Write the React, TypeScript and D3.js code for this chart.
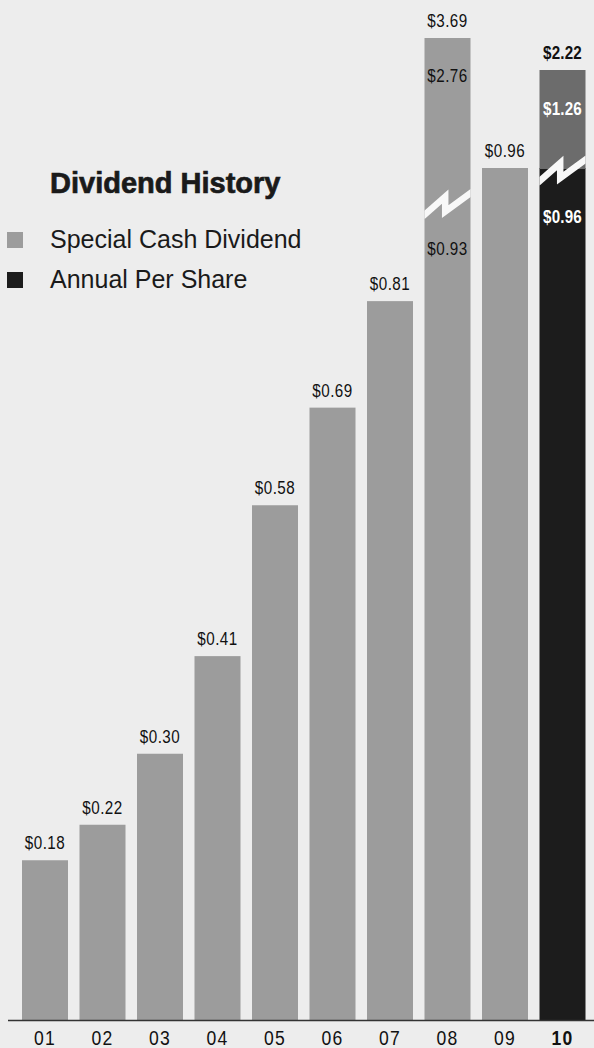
import React from "react";
import * as d3 from "d3";

const years = ["01", "02", "03", "04", "05", "06", "07", "08", "09", "10"];
const annual = [0.18, 0.22, 0.3, 0.41, 0.58, 0.69, 0.81, 0.93, 0.96, 0.96];
const special = [0, 0, 0, 0, 0, 0, 0, 2.76, 0, 1.26];
const legendItems = ["Special Cash Dividend", "Annual Per Share"];

const W = 594;
const H = 1048;
const BASE = 1020;

const GRAY = "#9c9c9c";
const DARK = "#6c6c6c";
const BLACK = "#1c1c1c";
const BG = "#ededed";
const SANS = "'Liberation Sans', Arial, Helvetica, sans-serif";

const fmt = (v: number) => "$" + v.toFixed(2);

function NText(props: {
  x: number;
  y: number;
  size?: number;
  bold?: boolean;
  fill?: string;
  spacing?: number;
  sx?: number;
  children: React.ReactNode;
}) {
  const { x, y, size = 19, bold = false, fill = "#111", spacing = 0.6, sx = 0.8, children } = props;
  return (
    <text
      transform={`translate(${x},${y}) scale(${sx},1)`}
      textAnchor="middle"
      fontFamily={SANS}
      fontSize={size}
      letterSpacing={spacing}
      fontWeight={bold ? "bold" : "normal"}
      fill={fill}
    >
      {children}
    </text>
  );
}

export default function App() {
  const x = d3.scaleBand<string>().domain(years).range([16.25, 591.25]).paddingInner(0.2).paddingOuter(0.1);
  // broken value axis: true scale up to the annual level, compressed above the break
  const y = d3.scaleLinear().domain([0, 0.96, 2.22, 3.69]).range([BASE, 168, 70, 38]);
  const bw = x.bandwidth();
  const last = years.length - 1;

  return (
    <svg width={W} height={H} style={{ position: "absolute", left: 0, top: 0, background: BG }}>
      <rect x={0} y={0} width={W} height={H} fill={BG} />
      <defs>
        {years.map((yr, i) => {
          const total = annual[i] + special[i];
          const x0 = x(yr)!;
          return (
            <clipPath id={`clip${i}`} key={yr}>
              <rect x={x0} y={y(total)} width={bw} height={BASE - y(total)} />
            </clipPath>
          );
        })}
      </defs>

      {years.map((yr, i) => {
        const total = annual[i] + special[i];
        const x0 = x(yr)!;
        const cx = x0 + bw / 2;
        const isLast = i === last;
        const hasSpecial = special[i] > 0;
        const yc = y(annual[i]) + (i === 7 ? 10 : 3);
        const xm = x0 + bw * 0.45;
        const zig = `M${x0 - 2},${yc + 12} L${xm},${yc - 8} L${xm},${yc + 7} L${x0 + bw + 2},${yc - 13}`;
        const txtFill = isLast ? "#fff" : "#111";
        return (
          <g key={yr}>
            {isLast ? (
              <>
                <rect x={x0} y={y(annual[i])} width={bw} height={BASE - y(annual[i])} fill={BLACK} />
                <rect x={x0} y={y(total)} width={bw} height={y(annual[i]) - y(total) + 1} fill={DARK} />
              </>
            ) : (
              <rect x={x0} y={y(total)} width={bw} height={BASE - y(total)} fill={GRAY} />
            )}
            {hasSpecial && (
              <path d={zig} fill="none" stroke="#f8f8f8" strokeWidth={6.5} strokeLinejoin="miter" clipPath={`url(#clip${i})`} />
            )}
            <NText x={cx} y={y(total) - 11} bold={isLast} spacing={isLast ? 0.2 : 0.6}>
              {fmt(total)}
            </NText>
            {hasSpecial && (
              <>
                <NText x={cx} y={y(total) + (isLast ? 45 : 44)} bold={isLast} fill={txtFill} spacing={isLast ? 0.2 : 0.6}>
                  {fmt(special[i])}
                </NText>
                <NText x={cx} y={yc + (isLast ? 52 : 50)} bold={isLast} fill={txtFill} spacing={isLast ? 0.2 : 0.6}>
                  {fmt(annual[i])}
                </NText>
              </>
            )}
            <NText x={cx} y={1045} size={19.5} bold={isLast} sx={0.9} spacing={1.4}>
              {yr}
            </NText>
          </g>
        );
      })}

      <line x1={8} x2={W} y1={BASE + 0.5} y2={BASE + 0.5} stroke="#333" strokeWidth={1.5} />

      <text x={50} y={193} fontFamily={SANS} fontWeight="bold" fontSize={29} fill="#1a1a1a" stroke="#1a1a1a" strokeWidth={0.7}>
        Dividend History
      </text>
      {legendItems.map((t, i) => (
        <g key={t}>
          <rect x={7} y={232 + i * 40} width={16} height={16} fill={i === 0 ? GRAY : BLACK} />
          <text x={50} y={248 + i * 40} fontFamily={SANS} fontSize={25} fill="#1a1a1a">
            {t}
          </text>
        </g>
      ))}
    </svg>
  );
}
